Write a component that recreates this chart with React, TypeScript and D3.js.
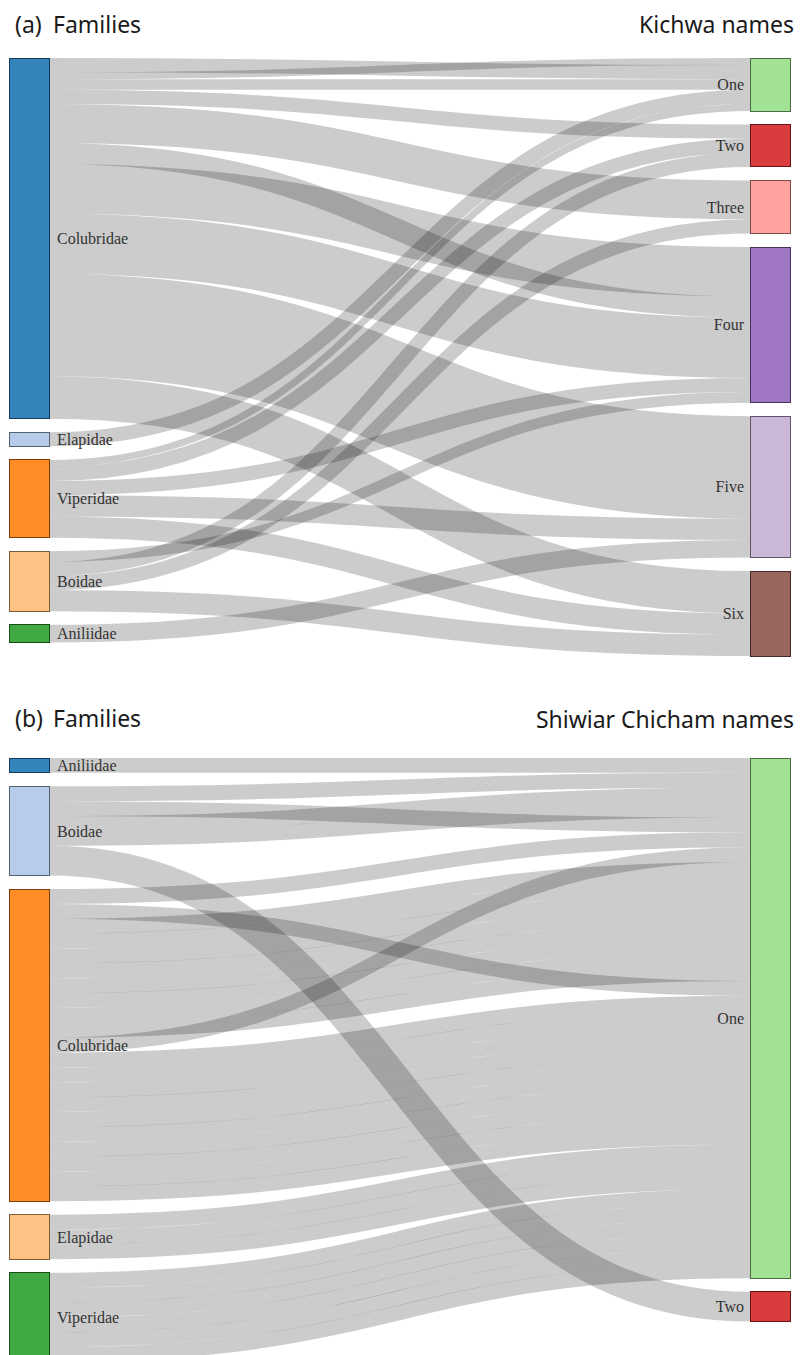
import React from "react";
import * as d3 from "d3";

// d3 category20 (first 11 colours), node colour follows node index
const PALETTE = ["#1f77b4", "#aec7e8", "#ff7f0e", "#ffbb78", "#2ca02c", "#98df8a", "#d62728", "#ff9896", "#9467bd", "#c5b0d5", "#8c564b"];

// ---------- Panel (a): Kichwa ----------
const kichwaFamilies = ["Colubridae", "Elapidae", "Viperidae", "Boidae", "Aniliidae"];
const kichwaNames = ["One", "Two", "Three", "Four", "Five", "Six"];
// [family, name, value, stacking rank at the name node]
const kichwaLinks: [string, string, number, number][] = [
  ["Colubridae", "One", 4, 2],
  ["Colubridae", "One", 2, 1],
  ["Colubridae", "One", 3, 3],
  ["Colubridae", "Two", 4, 1],
  ["Colubridae", "Three", 11, 1],
  ["Colubridae", "Four", 6, 2],
  ["Colubridae", "Four", 14, 1],
  ["Colubridae", "Four", 17, 3],
  ["Colubridae", "Five", 29, 1],
  ["Colubridae", "Six", 12, 1],
  ["Elapidae", "One", 4, 4],
  ["Viperidae", "One", 2, 5],
  ["Viperidae", "Two", 4, 2],
  ["Viperidae", "Four", 4, 4],
  ["Viperidae", "Five", 6, 2],
  ["Viperidae", "Six", 6, 2],
  ["Boidae", "Four", 3, 5],
  ["Boidae", "Two", 4, 3],
  ["Boidae", "Three", 4, 2],
  ["Boidae", "Six", 6, 3],
  ["Aniliidae", "Five", 5, 3],
];

// ---------- Panel (b): Shiwiar Chicham ----------
const shiwiarFamilies = ["Aniliidae", "Boidae", "Colubridae", "Elapidae", "Viperidae"];
const shiwiarNames = ["One", "Two"];
const shiwiarLinks: [string, string, number, number][] = [
  ["Aniliidae", "One", 1, 1],
  ["Boidae", "One", 1, 2],
  ["Boidae", "One", 1, 5],
  ["Boidae", "One", 1, 3],
  ["Boidae", "One", 1, 4],
  ["Boidae", "Two", 2, 1],
  ["Colubridae", "One", 1, 6],
  ["Colubridae", "One", 1, 9],
  ["Colubridae", "One", 8, 8],
  ["Colubridae", "One", 1, 7],
  ["Colubridae", "One", 10, 10],
  ["Elapidae", "One", 3, 11],
  ["Viperidae", "One", 6, 12],
];

const NODE_W = 40;
const PAD = 13.5;

type LNode = { name: string; col: number; idx: number; value: number; x0: number; x1: number; y0: number; y1: number };
type LLink = { s: LNode; t: LNode; value: number; rank: number; sy: number; ty: number; order: number };

function layout(
  families: string[],
  names: string[],
  links: [string, string, number, number][],
  top: number,
  height: number
) {
  const xCol = d3.scaleLinear().domain([0, 1]).range([9, 750]);
  const nodes: LNode[] = [
    ...families.map((n, i) => ({ name: n, col: 0, idx: i, value: 0, x0: 0, x1: 0, y0: 0, y1: 0 })),
    ...names.map((n, i) => ({ name: n, col: 1, idx: families.length + i, value: 0, x0: 0, x1: 0, y0: 0, y1: 0 })),
  ];
  const left = new Map(nodes.filter((n) => n.col === 0).map((n) => [n.name, n]));
  const right = new Map(nodes.filter((n) => n.col === 1).map((n) => [n.name, n]));
  const ls: LLink[] = links.map(([s, t, v, r], i) => ({ s: left.get(s)!, t: right.get(t)!, value: v, rank: r, sy: 0, ty: 0, order: i }));
  nodes.forEach((n) => {
    n.value = d3.sum(ls.filter((l) => l.s === n || l.t === n), (l) => l.value);
  });
  const total = d3.sum(ls, (l) => l.value);
  const ky = d3.scaleLinear().domain([0, total]).range([0, height - (names.length - 1) * PAD]);
  [0, 1].forEach((c) => {
    let y = top;
    nodes
      .filter((n) => n.col === c)
      .forEach((n) => {
        n.x0 = xCol(c);
        n.x1 = n.x0 + NODE_W;
        n.y0 = y;
        n.y1 = y + ky(n.value);
        y = n.y1 + PAD;
      });
  });
  nodes
    .filter((n) => n.col === 0)
    .forEach((n) => {
      let y = n.y0;
      ls.filter((l) => l.s === n).forEach((l) => {
        l.sy = y;
        y += ky(l.value);
      });
    });
  nodes
    .filter((n) => n.col === 1)
    .forEach((n) => {
      let y = n.y0;
      ls.filter((l) => l.t === n)
        .sort((a, b) => a.rank - b.rank)
        .forEach((l) => {
          l.ty = y;
          y += ky(l.value);
        });
    });
  return { nodes, links: ls, ky };
}

const linkGen = d3.linkHorizontal();

function Panel({
  data,
  split,
}: {
  data: ReturnType<typeof layout>;
  split: boolean;
}) {
  const { nodes, links, ky } = data;
  const paths: { d: string; w: number; key: string }[] = [];
  links.forEach((l, i) => {
    const x0 = l.s.x1;
    const x1 = l.t.x0;
    if (split && l.value >= 3) {
      for (let u = 0; u < l.value; u++) {
        const y0 = l.sy + ky(u + 0.5);
        const y1 = l.ty + ky(u + 0.5);
        paths.push({ d: linkGen({ source: [x0, y0], target: [x1, y1] } as any) as string, w: ky(1), key: `${i}-${u}` });
      }
    } else {
      const w = ky(l.value);
      paths.push({
        d: linkGen({ source: [x0, l.sy + w / 2], target: [x1, l.ty + w / 2] } as any) as string,
        w,
        key: `${i}`,
      });
    }
  });
  return (
    <g>
      <g fill="none" stroke="#000" strokeOpacity={0.2}>
        {paths.map((p) => (
          <path key={p.key} d={p.d} strokeWidth={Math.max(1, p.w)} />
        ))}
      </g>
      <g>
        {nodes.map((n) => {
          const c = PALETTE[n.idx];
          return (
            <rect
              key={n.name + n.col}
              x={n.x0}
              y={n.y0}
              width={n.x1 - n.x0}
              height={n.y1 - n.y0}
              fill={c}
              fillOpacity={0.9}
              stroke={d3.rgb(c).darker(2).toString()}
              strokeWidth={1}
              shapeRendering="crispEdges"
            />
          );
        })}
      </g>
      <g fontFamily="'Liberation Serif', 'Times New Roman', serif" fontSize={16} fill="#333">
        {nodes.map((n) => (
          <text
            key={"t" + n.name + n.col}
            x={n.col === 0 ? n.x1 + 8 : n.x0 - 6}
            y={(n.y0 + n.y1) / 2}
            dy="0.35em"
            textAnchor={n.col === 0 ? "start" : "end"}
          >
            {n.name}
          </text>
        ))}
      </g>
    </g>
  );
}

export default function App() {
  const W = 805;
  const H = 1355;
  const a = layout(kichwaFamilies, kichwaNames, kichwaLinks, 58, 598);
  const b = layout(shiwiarFamilies, shiwiarNames, shiwiarLinks, 758, 563.5);
  const titleFont = { fontFamily: "'Noto Sans', sans-serif", fontSize: 23, fill: "#1a1a1a" };
  return (
    <svg width={W} height={H} style={{ position: "absolute", left: 0, top: 0, background: "#fff" }}>
      <g {...titleFont}>
        <text x={15} y={33}>(a)</text>
        <text x={53} y={33}>Families</text>
        <text x={794} y={33} textAnchor="end">Kichwa names</text>
        <text x={15} y={727}>(b)</text>
        <text x={53} y={727}>Families</text>
        <text x={794} y={728} textAnchor="end">Shiwiar Chicham names</text>
      </g>
      <Panel data={a} split={false} />
      <Panel data={b} split={true} />
    </svg>
  );
}
